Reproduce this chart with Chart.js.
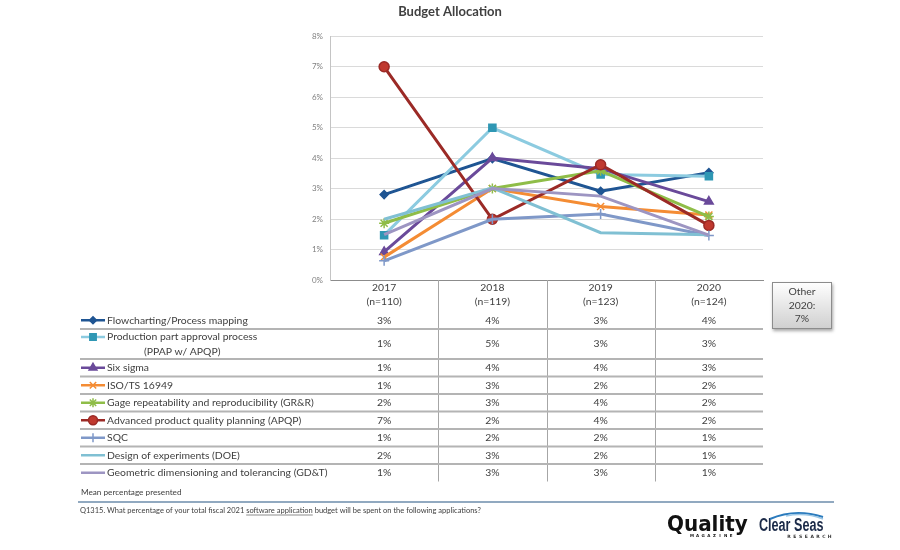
<!DOCTYPE html>
<html>
<head>
<meta charset="utf-8">
<title>Budget Allocation</title>
<script src="https://cdn.jsdelivr.net/npm/chart.js@4.4.1/dist/chart.umd.min.js"></script>
<style>
  html, body { margin: 0; padding: 0; background: #ffffff; }
  #wrap { width: 900px; height: 550px; position: relative; }
</style>
</head>
<body>
<div id="wrap"><canvas id="budgetChart"></canvas></div>
<script>
// --- DATA ---
const years = ['2017', '2018', '2019', '2020'];
const sampleSizes = ['(n=110)', '(n=119)', '(n=123)', '(n=124)'];

const seriesNames = [
    ['Flowcharting/Process mapping'],
    ['Production part approval process', '(PPAP w/ APQP)'],
    ['Six sigma'],
    ['ISO/TS 16949'],
    ['Gage repeatability and reproducibility (GR&R)'],
    ['Advanced product quality planning (APQP)'],
    ['SQC'],
    ['Design of experiments (DOE)'],
    ['Geometric dimensioning and tolerancing (GD&T)']
];

// mean percentage per year
const flowcharting = [2.80, 3.98, 2.91, 3.52];
const ppap = [1.47, 4.99, 3.46, 3.40];
const sixSigma = [0.92, 4.00, 3.65, 2.57];
const isoTs = [0.75, 3.00, 2.41, 2.13];
const gageRR = [1.86, 3.00, 3.58, 2.08];
const apqp = [6.99, 1.99, 3.78, 1.79];
const sqc = [0.63, 1.99, 2.16, 1.46];
const doe = [1.99, 3.02, 1.55, 1.48];
const gdt = [1.49, 3.00, 2.75, 1.47];

const otherNote = ['Other', '2020:', '7%'];

document.addEventListener('DOMContentLoaded', function () {

    const FONT = 'Lato, "Open Sans", sans-serif';
    const TEXT = '#404040';

    // --- SERIES STYLES ---
    const styles = [
        { line: '#1f5593', fill: '#1f5593', point: 'rectRot', r: 4 },
        { line: '#8ccbe0', fill: '#2f97b4', point: 'rect', r: 5 },
        { line: '#6a4a9a', fill: '#6a4a9a', point: 'triangle', r: 5 },
        { line: '#f48c34', fill: '#f48c34', point: 'crossRot', r: 5 },
        { line: '#8fbd48', fill: '#8fbd48', point: 'star', r: 5 },
        { line: '#9b2a26', fill: '#c0392f', point: 'circle', r: 5 },
        { line: '#7f98c8', fill: '#7f98c8', point: 'cross', r: 5 },
        { line: '#80c0d3', fill: '#80c0d3', point: false, r: 0 },
        { line: '#9d95c2', fill: '#9d95c2', point: false, r: 0 }
    ];
    const seriesData = [flowcharting, ppap, sixSigma, isoTs, gageRR, apqp, sqc, doe, gdt];

    const datasets = seriesData.map(function (d, i) {
        const s = styles[i];
        return {
            label: seriesNames[i].join(' '),
            data: d,
            borderColor: s.line,
            backgroundColor: s.fill,
            borderWidth: 3,
            pointStyle: s.point,
            pointRadius: s.r,
            pointHoverRadius: s.r,
            pointBackgroundColor: s.fill,
            pointBorderColor: s.point === 'circle' ? s.line : s.fill,
            pointBorderWidth: 1.5,
            tension: 0,
            order: seriesData.length - i // later series drawn on top, like Excel
        };
    });

    function drawMarker(ctx, s, x, y) {
        if (!s.point) return;
        ctx.save();
        ctx.fillStyle = s.fill;
        ctx.strokeStyle = s.point === 'circle' ? s.line : s.fill;
        ctx.lineWidth = 1.5;
        if (Chart.helpers && Chart.helpers.drawPoint) {
            Chart.helpers.drawPoint(ctx, { pointStyle: s.point, radius: s.r - 0.5, rotation: 0, borderWidth: 1.5 }, x, y);
        } else {
            ctx.beginPath();
            ctx.arc(x, y, s.r - 1, 0, Math.PI * 2);
            ctx.fill();
        }
        ctx.restore();
    }

    // --- TABLE, TITLE AND FOOTER ---
    const tablePlugin = {
        id: 'tablePlugin',
        afterDraw(chart) {
            const ctx = chart.ctx;
            const xs = chart.scales.x;
            const area = chart.chartArea;
            const centers = years.map((y, i) => xs.getPixelForValue(i));

            ctx.save();

            // title
            ctx.fillStyle = TEXT;
            ctx.font = 'bold 13px ' + FONT;
            ctx.textAlign = 'center';
            ctx.textBaseline = 'middle';
            ctx.fillText('Budget Allocation', 450, 12);

            // rows
            const tableLeft = 80;
            let top = 311.5;
            const rowBounds = seriesNames.map(function (n) {
                const h = n.length > 1 ? 30 : 17.5;
                const b = { top: top, h: h };
                top += h;
                return b;
            });
            const tableBottom = top;

            // vertical column lines
            ctx.strokeStyle = '#a6a6a6';
            ctx.lineWidth = 1;
            for (let i = 0; i < centers.length - 1; i++) {
                const bx = Math.round((centers[i] + centers[i + 1]) / 2) + 0.5;
                ctx.beginPath();
                ctx.moveTo(bx, area.bottom);
                ctx.lineTo(bx, tableBottom);
                ctx.stroke();
            }

            // row separators
            ctx.strokeStyle = '#b4b4b4';
            ctx.lineWidth = 2;
            rowBounds.forEach(function (b, i) {
                if (i === rowBounds.length - 1) return;
                const y = b.top + b.h;
                ctx.beginPath();
                ctx.moveTo(tableLeft, y);
                ctx.lineTo(area.right, y);
                ctx.stroke();
            });

            ctx.font = '10.4px ' + FONT;
            ctx.fillStyle = TEXT;
            ctx.textBaseline = 'middle';
            rowBounds.forEach(function (b, i) {
                const s = styles[i];
                const cy = b.top + b.h / 2;
                const names = seriesNames[i];
                const firstY = names.length > 1 ? cy - 7 : cy;

                // legend sample
                ctx.strokeStyle = s.line;
                ctx.lineWidth = 2.5;
                ctx.beginPath();
                ctx.moveTo(81, firstY);
                ctx.lineTo(105, firstY);
                ctx.stroke();
                drawMarker(ctx, s, 93, firstY);

                ctx.fillStyle = TEXT;
                ctx.textAlign = 'left';
                ctx.fillText(names[0], 107, firstY);
                if (names.length > 1) {
                    const w0 = ctx.measureText(names[0]).width;
                    ctx.textAlign = 'center';
                    ctx.fillText(names[1], 107 + w0 / 2, cy + 7.5);
                }

                // values
                ctx.textAlign = 'center';
                seriesData[i].forEach(function (v, j) {
                    ctx.fillText(Math.round(v) + '%', centers[j], cy);
                });
            });

            // "Other" callout box
            const bx = 772, by = 282, bw = 60, bh = 47;
            ctx.save();
            ctx.shadowColor = 'rgba(0,0,0,0.35)';
            ctx.shadowBlur = 3;
            ctx.shadowOffsetX = 1;
            ctx.shadowOffsetY = 2;
            const g = ctx.createLinearGradient(0, by, 0, by + bh);
            g.addColorStop(0, '#ffffff');
            g.addColorStop(1, '#cfcfcf');
            ctx.fillStyle = g;
            ctx.fillRect(bx, by, bw, bh);
            ctx.restore();
            ctx.strokeStyle = '#8c8c8c';
            ctx.lineWidth = 1;
            ctx.strokeRect(bx + 0.5, by + 0.5, bw - 1, bh - 1);
            ctx.fillStyle = TEXT;
            ctx.textAlign = 'center';
            otherNote.forEach(function (t, i) {
                ctx.fillText(t, bx + bw / 2, 292 + i * 13.3);
            });

            // footer
            ctx.textAlign = 'left';
            ctx.font = '8.2px ' + FONT;
            ctx.fillText('Mean percentage presented', 81, 492);

            ctx.strokeStyle = '#6d8cab';
            ctx.lineWidth = 1.5;
            ctx.beginPath();
            ctx.moveTo(78, 502);
            ctx.lineTo(834, 502);
            ctx.stroke();

            ctx.font = '7.5px ' + FONT;
            const q1 = 'Q1315. What percentage of your total fiscal 2021 ';
            const q2 = 'software application';
            const q3 = ' budget will be spent on the following applications?';
            let qx = 80;
            ctx.fillText(q1, qx, 511);
            qx += ctx.measureText(q1).width;
            ctx.fillText(q2, qx, 511);
            const w2 = ctx.measureText(q2).width;
            ctx.lineWidth = 0.6;
            ctx.strokeStyle = TEXT;
            ctx.beginPath();
            ctx.moveTo(qx, 515);
            ctx.lineTo(qx + w2, 515);
            ctx.stroke();
            ctx.fillText(q3, qx + w2, 511);

            // logos
            ctx.fillStyle = '#111111';
            ctx.textBaseline = 'alphabetic';
            ctx.font = 'bold 21px "DejaVu Sans", sans-serif';
            ctx.save();
            ctx.translate(667, 531);
            ctx.scale(0.95, 1);
            ctx.fillText('Quality', 0, 0);
            ctx.restore();
            ctx.font = 'bold 4px "DejaVu Sans", sans-serif';
            ctx.textAlign = 'center';
            'MAGAZINE'.split('').forEach(function (c, i) {
                ctx.fillText(c, 692 + i * 5.6, 537);
            });

            ctx.fillStyle = '#1b2a48';
            ctx.textAlign = 'left';
            ctx.font = 'bold 18px "Liberation Sans", sans-serif';
            ctx.save();
            ctx.translate(759, 531);
            ctx.scale(0.7, 1);
            ctx.fillText('Clear Seas', 0, 0);
            ctx.restore();
            ctx.fillStyle = '#333333';
            ctx.font = 'bold 4.5px "DejaVu Sans", sans-serif';
            ctx.textAlign = 'center';
            'RESEARCH'.split('').forEach(function (c, i) {
                ctx.fillText(c, 789 + i * 5.8, 538);
            });
            ctx.strokeStyle = '#2b7bbd';
            ctx.lineWidth = 2;
            ctx.beginPath();
            ctx.moveTo(770, 519);
            ctx.quadraticCurveTo(795, 508, 823, 517);
            ctx.stroke();
            ctx.strokeStyle = '#9cc7e6';
            ctx.lineWidth = 1.5;
            ctx.beginPath();
            ctx.moveTo(786, 516);
            ctx.quadraticCurveTo(805, 512, 823, 519);
            ctx.stroke();

            ctx.restore();
        }
    };

    // --- CHART ---
    const ctx = document.getElementById('budgetChart').getContext('2d');
    new Chart(ctx, {
        type: 'line',
        data: {
            labels: years,
            datasets: datasets
        },
        options: {
            responsive: true,
            maintainAspectRatio: false,
            animation: false,
            layout: {
                padding: { top: 36, left: 305, right: 137, bottom: 238 }
            },
            plugins: {
                legend: { display: false },
                title: { display: false },
                tooltip: { mode: 'index', intersect: false }
            },
            scales: {
                x: {
                    offset: true,
                    afterFit: function (scale) { scale.height = 32; },
                    grid: { display: false, drawTicks: false },
                    border: { display: true, color: '#8c8c8c', width: 1 },
                    ticks: {
                        autoSkip: false,
                        maxRotation: 0,
                        padding: 1,
                        color: TEXT,
                        font: { family: FONT, size: 10.4, lineHeight: 1.35 },
                        callback: function (value, index) {
                            return [years[index], sampleSizes[index]];
                        }
                    }
                },
                y: {
                    min: 0,
                    max: 8,
                    afterFit: function (scale) { scale.width = 25; },
                    grid: { color: '#dadada', drawTicks: false },
                    border: { display: true, color: '#c4c4c4' },
                    ticks: {
                        stepSize: 1,
                        padding: 7,
                        color: '#808080',
                        font: { family: FONT, size: 8 },
                        callback: function (value) { return value + '%'; }
                    }
                }
            }
        },
        plugins: [tablePlugin]
    });

});
</script>
</body>
</html>
